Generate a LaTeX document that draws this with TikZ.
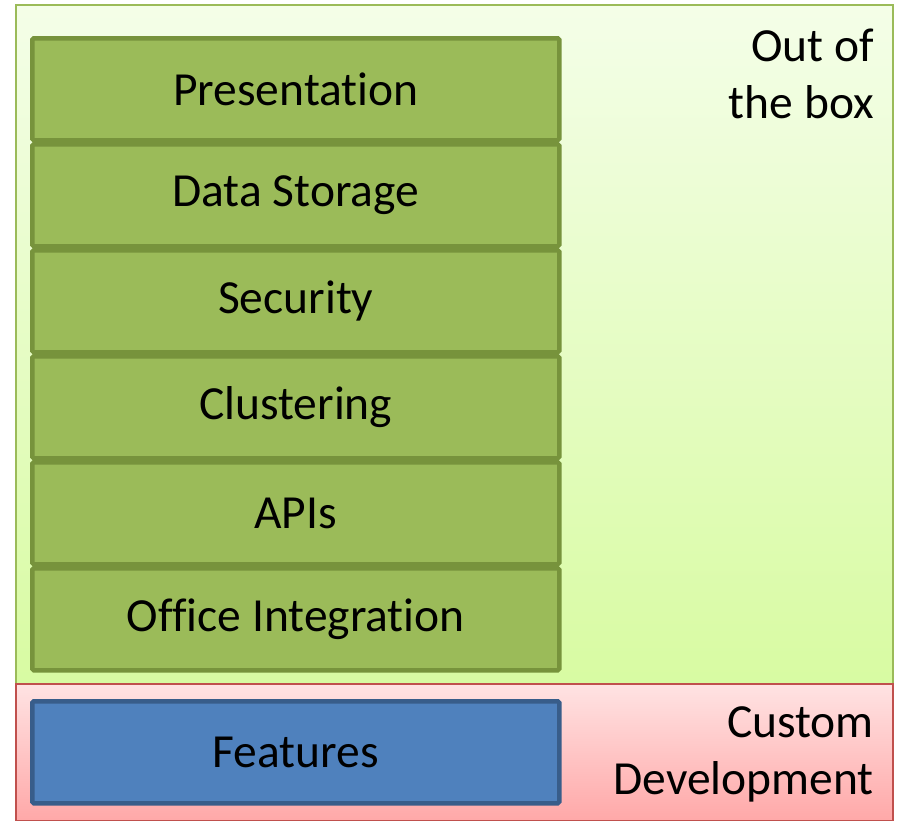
\documentclass[tikz,border=0pt]{standalone}
\usepackage{fontspec}
\setmainfont{Carlito}[Ligatures={NoCommon,NoContextual,NoRare}]
\definecolor{rowfill}{HTML}{9BBB59}
\definecolor{rowdraw}{HTML}{77933C}
\definecolor{featfill}{HTML}{4F81BD}
\definecolor{featdraw}{HTML}{385D8A}
\definecolor{oobtop}{HTML}{F4FEE8}
\definecolor{oobbot}{HTML}{D8FBA2}
\definecolor{oobdraw}{HTML}{9BBB59}
\definecolor{custtop}{HTML}{FFE3E3}
\definecolor{custbot}{HTML}{FFA8A8}
\definecolor{custdraw}{HTML}{C0504D}
\tikzset{
  layerbox/.style={draw=rowdraw, fill=rowfill, line width=4.5pt, rounded corners=1.5pt,
    minimum width=527pt, minimum height=102pt, inner sep=0pt, anchor=north west,
    font=\fontsize{47.5}{57}\selectfont},
  featbox/.style={layerbox, draw=featdraw, fill=featfill},
  zonelabel/.style={align=right, anchor=north east, inner sep=0pt,
    font=\fontsize{47.5}{57}\selectfont}
}
\begin{document}
\begin{tikzpicture}[x=1pt,y=-1pt]
\useasboundingbox (0,0) rectangle (901,820);
% zones
\path[shade, top color=oobtop, bottom color=oobbot, draw=oobdraw, line width=1.5pt]
  (16,5) rectangle (893,684);
\path[shade, top color=custtop, bottom color=custbot, draw=custdraw, line width=1.5pt]
  (16,684) rectangle (893,821);
\node[zonelabel] (oob) at (874,29) {Out of\\the box};
\node[zonelabel] (cust) at (874,706) {Custom\\Development};
% layers
\node[layerbox] (pres) at (30,36) {Presentation};
\node[layerbox] (data) at (30,142) {Data Storage};
\node[layerbox] (sec) at (30,248) {Security};
\node[layerbox] (clus) at (30,354) {Clustering};
\node[layerbox] (apis) at (30,460) {APIs};
\node[layerbox] (office) at (30,566) {Office Integration};
\node[featbox] (feat) at (30,699) {Features};
\end{tikzpicture}
\end{document}
